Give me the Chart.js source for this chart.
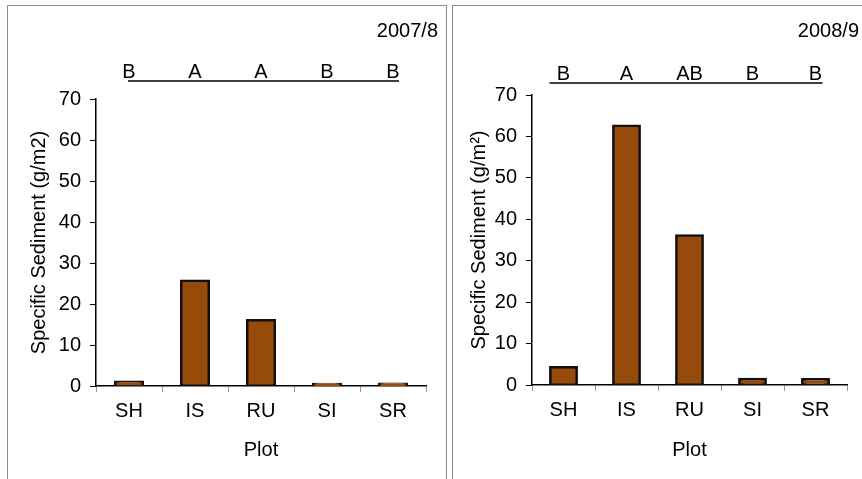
<!DOCTYPE html>
<html>

<head>
    <meta charset="UTF-8">
    <title>Specific Sediment</title>
    <script src="https://cdn.jsdelivr.net/npm/chart.js@4.4.0/dist/chart.umd.min.js"></script>
    <style>
        body { margin: 0; background: #fff; width: 862px; height: 479px; overflow: hidden; position: relative; }
        .panel { position: absolute; border: 1px solid #8c8c8c; box-sizing: border-box; }
        canvas { position: absolute; }
    </style>
</head>

<body>
    <div class="panel" style="left:7px; top:5px; width:440px; height:490px;"></div>
    <div class="panel" style="left:452px; top:5px; width:420px; height:490px;"></div>
    <canvas id="chart1" style="left:8px; top:5px;" width="438" height="474"></canvas>
    <canvas id="chart2" style="left:453px; top:5px;" width="409" height="474"></canvas>
    <script>
        const plots = ['SH', 'IS', 'RU', 'SI', 'SR'];
        const sed2007 = [1.0, 25.6, 16.0, 0.4, 0.5];   // g/m2
        const sed2008 = [4.2, 62.5, 36.0, 1.4, 1.3];   // g/m2
        const letters2007 = ['B', 'A', 'A', 'B', 'B'];
        const letters2008 = ['B', 'A', 'AB', 'B', 'B'];
        const yMin = 0, yMax = 70, yStep = 10;

        const FONT = { family: 'Arial, "Liberation Sans", sans-serif', size: 20 };
        Chart.defaults.font = FONT;
        Chart.defaults.color = '#000';

        // year label + significance letters with the line under them
        const annot = {
            id: 'annot',
            afterDraw(chart, args, o) {
                const ctx = chart.ctx, x = chart.scales.x;
                ctx.save();
                ctx.font = '20px Arial, "Liberation Sans", sans-serif';
                ctx.fillStyle = '#000';
                ctx.textBaseline = 'middle';
                ctx.textAlign = 'right';
                ctx.fillText(o.year, o.yearX, o.yearY);
                ctx.textAlign = 'center';
                o.letters.forEach((l, i) => ctx.fillText(l, x.getPixelForValue(i), o.letterY));
                ctx.strokeStyle = '#000';
                ctx.lineWidth = 1.5;
                ctx.beginPath();
                ctx.moveTo(x.getPixelForValue(0) + o.lineFrom, o.lineY);
                ctx.lineTo(x.getPixelForValue(o.letters.length - 1) + o.lineTo, o.lineY);
                ctx.stroke();
                ctx.restore();
            }
        };

        function makeChart(id, values, cfg) {
            return new Chart(document.getElementById(id), {
                type: 'bar',
                data: {
                    labels: plots,
                    datasets: [{
                        data: values,
                        backgroundColor: '#964b0a',
                        borderColor: '#111',
                        borderWidth: 2.5,
                        borderSkipped: false,
                        inflateAmount: 1.5,
                        categoryPercentage: 1,
                        barPercentage: 0.41
                    }]
                },
                options: {
                    responsive: false,
                    animation: false,
                    layout: { padding: { top: cfg.top, left: cfg.left, right: cfg.right, bottom: 17 } },
                    plugins: {
                        legend: { display: false },
                        tooltip: { enabled: false },
                        annot: cfg.annot
                    },
                    scales: {
                        x: {
                            grid: { drawOnChartArea: false, color: '#9a9a9a', tickLength: 6, offset: true },
                            border: { color: '#000', width: 1.5 },
                            ticks: { padding: 7 },
                            title: { display: true, text: 'Plot', padding: 0 },
                            afterFit(s) { s.height = cfg.xh; }
                        },
                        y: {
                            min: yMin, max: yMax,
                            grid: { drawOnChartArea: false, color: '#000', tickLength: 6 },
                            border: { color: '#000', width: 1.5 },
                            ticks: { stepSize: yStep, padding: 9 },
                            title: { display: true, text: cfg.yTitle, padding: 0 },
                            afterFit(s) { s.width = cfg.yw; }
                        }
                    }
                },
                plugins: [annot]
            });
        }

        makeChart('chart1', sed2007, {
            top: 94, left: 19, right: 20, yw: 69, xh: 76,
            yTitle: 'Specific Sediment (g/m2)',
            annot: { year: '2007/8', yearX: 430, yearY: 26, letters: letters2007, letterY: 67, lineY: 76, lineFrom: -1, lineTo: 6 }
        });
        makeChart('chart2', sed2008, {
            top: 90, left: 14, right: 15, yw: 65, xh: 77,
            yTitle: 'Specific Sediment (g/m²)',
            annot: { year: '2008/9', yearX: 406, yearY: 26, letters: letters2008, letterY: 69, lineY: 78, lineFrom: -14, lineTo: 7 }
        });
    </script>
</body>

</html>
